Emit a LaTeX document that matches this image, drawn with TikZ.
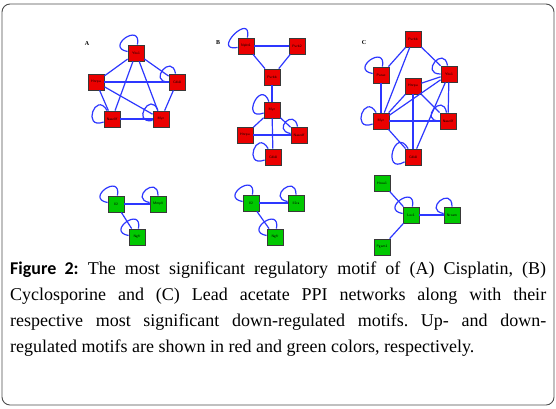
\documentclass[tikz,border=0pt]{standalone}
\usepackage{fontspec}
\setmainfont{Liberation Serif}
\newfontfamily\figsans{Carlito}
\definecolor{upred}{RGB}{235,0,0}
\definecolor{downgreen}{RGB}{0,200,0}
\definecolor{edgeblue}{RGB}{45,55,255}
\tikzset{every loop/.style={}}
\begin{document}
\begin{tikzpicture}[x=1pt,y=-1pt,
    gene/.style={rectangle, draw=gray!45!black, line width=0.8pt, minimum size=16pt, inner sep=0pt, font=\fontsize{3.5}{4}\selectfont\sffamily},
    upnode/.style={gene, fill=upred},
    downnode/.style={gene, fill=downgreen},
    link/.style={draw=edgeblue, line width=1.2pt},
    selfloop/.style={loop, looseness=5, min distance=12pt},
    panel/.style={font=\fontsize{6}{7}\selectfont\bfseries}]
  \useasboundingbox (0,0) rectangle (556,408);
  \draw[gray!60!black, line width=0.9pt, rounded corners=8pt] (2,4) rectangle (554,405);

  % panel A, up-regulated
  \node[panel] (labA) at (87,44) {A};
  \node[upnode] (aYbx) at (136,53) {Ybx1};
  \node[upnode] (aHnr) at (96,82) {Hnrpu};
  \node[upnode] (aCdk) at (177,82) {Cdk8};
  \node[upnode] (aNas) at (112,119) {Nasc0f};
  \node[upnode] (aMyc) at (161,119) {Myc};

  % panel B, up-regulated
  \node[panel] (labB) at (218,43) {B};
  \node[upnode] (bNpb) at (246,46) {Npbt1};
  \node[upnode] (bPu2) at (297,46) {Purb2};
  \node[upnode] (bPub) at (272,77) {Purbb};
  \node[upnode] (bMyc) at (272,110) {Myc};
  \node[upnode] (bHnr) at (245,135) {Hnrpu};
  \node[upnode] (bNas) at (299,135) {Nascdf};
  \node[upnode] (bCdk) at (273,157) {Cdk8};

  % panel C, up-regulated
  \node[panel] (labC) at (364,43) {C};
  \node[upnode] (cPub) at (413,39) {Purbb};
  \node[upnode] (cPur) at (381,75) {Purac};
  \node[upnode] (cYbx) at (449,74) {Ybx1};
  \node[upnode] (cHnr) at (413,86) {Hnrpu};
  \node[upnode] (cMyc) at (381,121) {Myc};
  \node[upnode] (cNas) at (448,121) {Nasc0f};
  \node[upnode] (cCdk) at (413,157) {Cdk8};

  % down-regulated motifs
  \node[downnode] (dIla) at (116,204) {Il2};
  \node[downnode] (dMmp) at (158,204) {Mmp9};
  \node[downnode] (dNga) at (137,237) {Ngfr};
  \node[downnode] (dIlb) at (251,203) {Il2};
  \node[downnode] (dIlr) at (296,203) {Il2ra};
  \node[downnode] (dNgb) at (275,237) {Ngfr};
  \node[downnode] (dHox) at (382,183) {Hoxa1};
  \node[downnode] (dLox) at (411,215) {Lox1};
  \node[downnode] (dNrc) at (452,215) {Nrcam};
  \node[downnode] (dPga) at (382,247) {Pgam1};

  % interactions
  \foreach \u/\v in {aYbx/aHnr, aYbx/aCdk, aYbx/aNas, aYbx/aMyc, aHnr/aCdk, aHnr/aNas,
                     aHnr/aMyc, aCdk/aMyc, aNas/aMyc,
                     bNpb/bPu2, bNpb/bPub, bPu2/bPub, bPub/bMyc, bMyc/bHnr, bMyc/bNas,
                     bMyc/bCdk, bHnr/bNas,
                     cPub/cPur, cPub/cYbx, cPub/cMyc, cPur/cMyc, cYbx/cHnr, cYbx/cMyc,
                     cYbx/cNas, cYbx/cCdk, cHnr/cMyc, cHnr/cNas, cHnr/cCdk, cMyc/cNas, cMyc/cCdk,
                     dIla/dMmp, dIla/dNga, dIlb/dIlr, dIlb/dNgb,
                     dLox/dHox, dLox/dNrc, dLox/dPga}
    \draw[link] (\u) -- (\v);

  % self-regulation
  \foreach \n/\o/\i in {aYbx/80/170, aCdk/100/180, aNas/120/200, aMyc/110/190,
                        bNpb/80/190, bMyc/110/200, bNas/100/170, bCdk/120/200,
                        cPur/80/170, cYbx/100/180, cMyc/120/200, cNas/100/180, cCdk/120/210,
                        dIla/80/170, dMmp/90/170, dNga/80/170,
                        dIlb/80/170, dIlr/90/170, dNgb/80/170,
                        dLox/80/170, dNrc/90/170}
    \draw[link] (\n) to[selfloop, out=\o, in=\i] (\n);

  % caption
  \node[anchor=north west, text width=536pt, align=justify, inner sep=0pt,
        font=\fontsize{18}{26}\selectfont\frenchspacing] (caption) at (10,262)
    {{\figsans\bfseries Figure 2:} The most significant regulatory motif of (A) Cisplatin, (B)\linebreak
     Cyclosporine and (C) Lead acetate PPI networks along with their\linebreak
     respective most significant down-regulated motifs. Up- and down-\linebreak
     regulated motifs are shown in red and green colors, respectively.};
\end{tikzpicture}
\end{document}
